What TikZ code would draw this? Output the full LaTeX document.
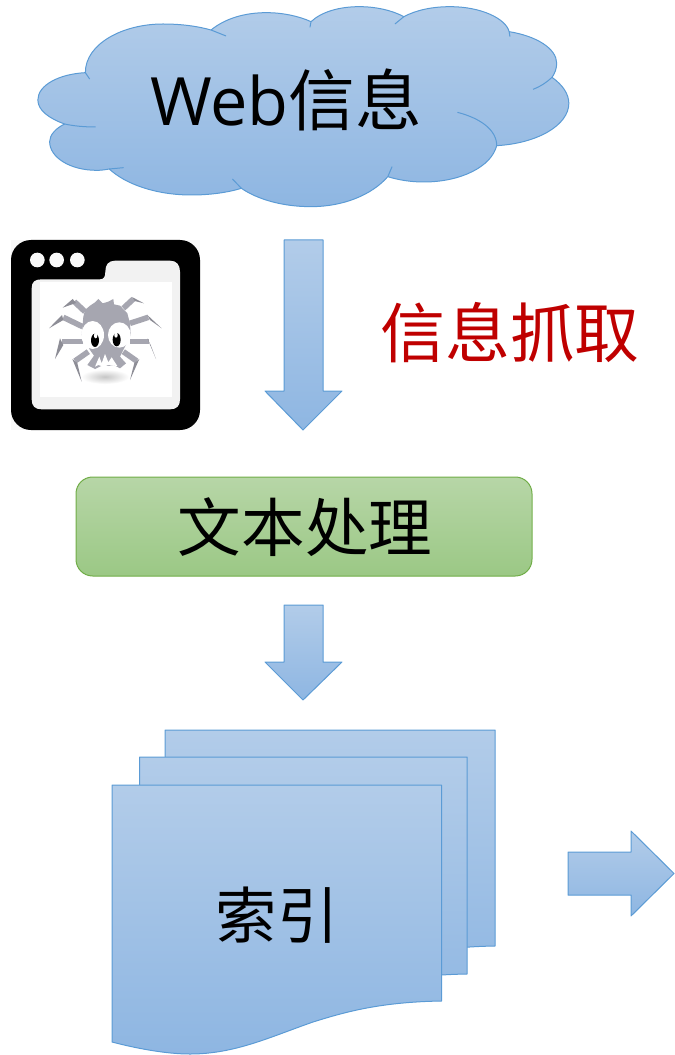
\documentclass[tikz,border=0pt]{standalone}
\usepackage{fontspec}
\newfontfamily\cjkf{Noto Sans CJK SC}
\newfontfamily\latf{Open Sans}
\definecolor{bluetop}{RGB}{178,204,233}
\definecolor{bluebot}{RGB}{142,182,226}
\definecolor{blueline}{RGB}{91,155,213}
\definecolor{greentop}{RGB}{183,214,167}
\definecolor{greenbot}{RGB}{155,200,133}
\definecolor{greenline}{RGB}{112,173,71}
\definecolor{spidergray}{RGB}{166,166,176}
\tikzset{
  bluefill/.style={draw=blueline,line width=0.75pt,top color=bluetop,bottom color=bluebot,line join=round},
  greenfill/.style={draw=greenline,line width=0.75pt,top color=greentop,bottom color=greenbot},
  inner stroke/.style={draw=blueline,line width=0.75pt},
  label text/.style={inner sep=0pt,text=black},
  leg/.style={draw=spidergray,line width=4.2pt,line join=round},
  legtip/.style={fill=spidergray!85!black},
}
\begin{document}
\begin{tikzpicture}[x=0.75pt,y=-0.75pt]
\useasboundingbox (0,0) rectangle (674,1055);
% cloud
\begin{scope}[x=0.2678pt,y=-0.25pt,shift={(15pt,0pt)}]
\path[bluefill] (183,218) .. controls (183,130) and (290,72) .. (400,72)
 .. controls (450,72) and (495,78) .. (535,90)
 .. controls (575,55) and (630,38) .. (690,38)
 .. controls (735,38) and (780,48) .. (815,65)
 .. controls (845,35) and (895,20) .. (950,20)
 .. controls (995,20) and (1040,30) .. (1075,50)
 .. controls (1110,30) and (1155,20) .. (1205,20)
 .. controls (1290,20) and (1360,55) .. (1370,95)
 .. controls (1445,108) and (1503,145) .. (1503,190)
 .. controls (1503,205) and (1498,220) .. (1490,232)
 .. controls (1520,255) and (1537,282) .. (1537,310)
 .. controls (1537,375) and (1450,430) .. (1335,437)
 .. controls (1320,500) and (1235,546) .. (1130,546)
 .. controls (1095,546) and (1060,540) .. (1030,530)
 .. controls (985,585) and (905,620) .. (815,620)
 .. controls (735,620) and (665,598) .. (620,565)
 .. controls (580,578) and (530,585) .. (480,585)
 .. controls (380,585) and (295,552) .. (250,507)
 .. controls (235,510) and (225,511) .. (215,511)
 .. controls (140,511) and (83,472) .. (83,425)
 .. controls (83,405) and (100,385) .. (125,372)
 .. controls (80,355) and (50,330) .. (50,300)
 .. controls (50,255) and (110,222) .. (183,218) -- cycle;
\draw[inner stroke] (535,90) -- (577,108);
\draw[inner stroke] (815,65) -- (812,82);
\draw[inner stroke] (1075,50) -- (1050,72);
\draw[inner stroke] (1370,95) -- (1372,110);
\draw[inner stroke] (1490,232) .. controls (1475,247) and (1457,260) .. (1437,268);
\draw[inner stroke] (1335,437) .. controls (1335,390) and (1290,355) .. (1225,337);
\draw[inner stroke] (1030,530) -- (1042,500);
\draw[inner stroke] (620,565) -- (595,537);
\draw[inner stroke] (250,507) -- (290,503);
\draw[inner stroke] (125,372) .. controls (150,378) and (180,381) .. (212,381);
\draw[inner stroke] (183,218) -- (195,237);
\end{scope}
\node[label text,font=\fontsize{50}{60}\selectfont] (webinfo) at (286,100) {{\latf Web}{\cjkf 信息}};
% spider icon
\begin{scope}[x=0.25pt,y=-0.25pt,shift={(0pt,-172.5pt)}]
\fill[black!3] (33,30) rectangle (600,600);
\fill[black,rounded corners=15pt] (33,30) rectangle (600,600);
\fill[white!95!gray] (112,90) circle[radius=5.5pt];
\fill[white!95!gray] (170,90) circle[radius=5.5pt];
\fill[white!95!gray] (232,90) circle[radius=5.5pt];
\fill[black!5] (95,175) .. controls (95,155) and (105,148) .. (125,148) -- (300,148)
  .. controls (312,148) and (316,140) .. (316,125) .. controls (316,105) and (325,92) .. (345,92)
  -- (510,92) .. controls (530,92) and (540,105) .. (540,125) -- (540,508)
  .. controls (540,528) and (530,538) .. (510,538) -- (125,538)
  .. controls (105,538) and (95,528) .. (95,508) -- cycle;
\fill[white] (120,155) rectangle (515,500);
\end{scope}
\begin{scope}[x=0.25pt,y=-0.25pt,shift={(30pt,-213.75pt)}]
\shade[inner color=gray!45,outer color=white] (195,275) ellipse[x radius=18pt,y radius=5.5pt];
% legs
\draw[leg] (135,80) -- (103,50);
\fill[legtip] (98,42) -- (68,68) -- (108,54) -- cycle;
\draw[leg] (250,70) -- (280,42);
\fill[legtip] (276,36) -- (312,55) -- (284,48) -- cycle;
\draw[leg] (128,125) -- (70,97);
\fill[legtip] (66,90) -- (27,130) -- (70,105) -- cycle;
\draw[leg] (270,115) -- (325,97);
\fill[legtip] (322,90) -- (365,130) -- (330,105) -- cycle;
\draw[leg] (130,170) -- (65,170);
\fill[legtip] (60,160) -- (45,222) -- (70,180) -- cycle;
\draw[leg] (270,170) -- (328,170);
\fill[legtip] (322,160) -- (348,222) -- (332,180) -- cycle;
\draw[leg] (145,200) -- (105,228);
\fill[legtip] (97,222) -- (125,290) -- (112,234) -- cycle;
\draw[leg] (250,200) -- (290,228);
\fill[legtip] (298,222) -- (270,285) -- (283,234) -- cycle;
% body
\fill[spidergray] (130,95) -- (135,75) -- (150,62) -- (165,52) -- (175,42) -- (188,55) -- (205,50) -- (220,42)
  -- (222,58) -- (240,62) -- (262,85) -- (270,115) -- (272,150) -- (250,195) -- (240,215)
  -- (258,235) -- (240,250) -- (222,240) -- (205,243) -- (190,240) -- (165,252) -- (142,240) -- (162,212)
  -- (150,195) -- (125,150) -- cycle;
% eyes
\fill[white] (158,150) ellipse[x radius=8.5pt,y radius=10.5pt];
\fill[white] (238,150) ellipse[x radius=8.5pt,y radius=9.5pt];
\fill[black] (165,166) ellipse[x radius=3pt,y radius=5pt];
\fill[black] (230,164) ellipse[x radius=3pt,y radius=5pt];
\fill[white] (167,152) ellipse[x radius=1.3pt,y radius=2pt];
\fill[white] (228,150) ellipse[x radius=1.3pt,y radius=2pt];
% mouth fur
\fill[white] (165,245) -- (178,215) -- (185,235) -- (195,207) -- (205,232) -- (215,217) -- (232,243)
  -- (205,240) -- (190,245) -- (175,240) -- cycle;
\end{scope}
% down arrow 1
\path[bluefill] (284,240) -- (323,240) -- (323,391) -- (342,391) -- (303,430) -- (265,391) -- (284,391) -- cycle;
\node[label text,text=red!75!black,font=\fontsize{48.7}{56}\cjkf] (grab) at (510,333) {信息抓取};
% green box
\node[greenfill,rounded corners=12.5pt,minimum width=342pt,minimum height=74.25pt,inner sep=0pt,anchor=center] (proc) at (304,526.5) {};
\node[label text,font=\fontsize{47.7}{56}\cjkf] (proclabel) at (305,527) {文本处理};
% down arrow 2
\path[bluefill] (284,605) -- (323,605) -- (323,662) -- (342,662) -- (303,700) -- (265,662) -- (284,662) -- cycle;
% stacked documents
\path[bluefill] (165,730) -- (495,730) -- (495,946) .. controls (434,947) and (399,957) .. (367,967)
  .. controls (324,982) and (289,999) .. (243,999) .. controls (218,999) and (188,993) .. (165,987) -- cycle;
\path[bluefill] (139.5,757) -- (467,757) -- (467,974) .. controls (406,975) and (371,985) .. (339,995)
  .. controls (296,1010) and (261,1027) .. (217.5,1027) .. controls (192,1027) and (162,1021) .. (139.5,1015) -- cycle;
\path[bluefill] (112,785) -- (441.5,785) -- (441.5,1001) .. controls (380,1002) and (345,1012) .. (313,1022)
  .. controls (270,1037) and (235,1054) .. (190,1054) .. controls (165,1054) and (135,1048) .. (112,1042) -- cycle;
\node[label text,font=\fontsize{46}{52}\cjkf] (index) at (277,915) {索引};
% right arrow
\path[bluefill] (568,852) -- (631,852) -- (631,831) -- (674,873.5) -- (631,916) -- (631,895) -- (568,895) -- cycle;
\end{tikzpicture}
\end{document}
